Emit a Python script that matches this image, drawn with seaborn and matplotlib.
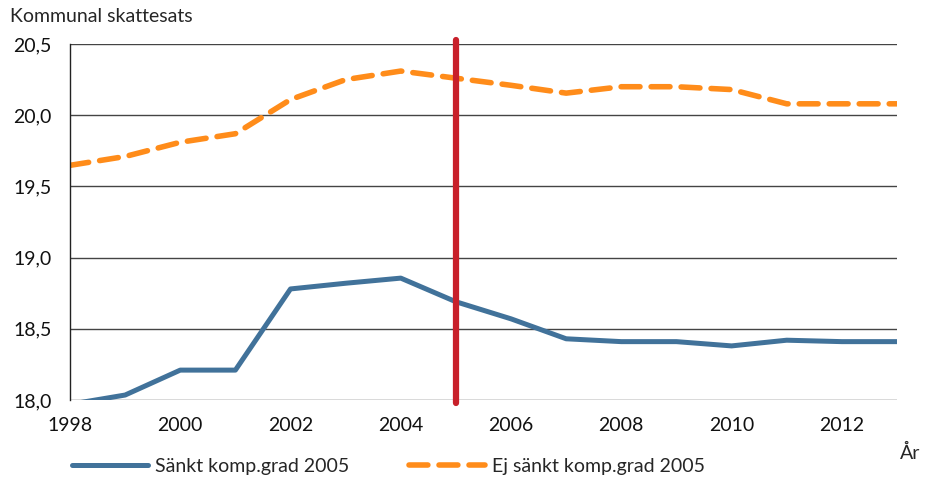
import pandas as pd
import matplotlib
import matplotlib.pyplot as plt
import seaborn as sns
from matplotlib.ticker import FuncFormatter

matplotlib.use("Agg")
sns.set_style("white")
plt.rcParams['font.family'] = ['Lato', 'DejaVu Sans']

# === Data ===
years = list(range(1998, 2014))
sankt = [17.97, 18.035, 18.21, 18.21, 18.78, 18.82, 18.856, 18.69, 18.57,
         18.43, 18.41, 18.41, 18.38, 18.42, 18.41, 18.41]
ej_sankt = [19.648, 19.71, 19.81, 19.87, 20.11, 20.25, 20.31, 20.26, 20.21,
            20.155, 20.20, 20.20, 20.18, 20.08, 20.08, 20.08]
series_names = ["Sänkt komp.grad 2005", "Ej sänkt komp.grad 2005"]
reform_year = 2005

df = pd.DataFrame({
    "År": years * 2,
    "Skattesats": sankt + ej_sankt,
    "Grupp": [series_names[0]] * len(years) + [series_names[1]] * len(years),
})

# === Plot ===
fig = plt.figure(figsize=(9.27, 4.83), dpi=100)
ax = fig.add_axes([0.0755, 0.1718, 0.8921, 0.7371])

sns.lineplot(data=df[df["Grupp"] == series_names[0]], x="År", y="Skattesats",
             color="#41729a", linewidth=3.6, ax=ax, label=series_names[0])
sns.lineplot(data=df[df["Grupp"] == series_names[1]], x="År", y="Skattesats",
             color="#ff8c1a", linewidth=4.0, ax=ax, label=series_names[1])
ax.lines[1].set_dashes((3.4, 2.0))
ax.lines[1].set_dash_capstyle("round")

ax.set_xlim(1998, 2013)
ax.set_ylim(18.0, 20.5)
ax.set_yticks([18.0, 18.5, 19.0, 19.5, 20.0, 20.5])
ax.set_xticks(list(range(1998, 2013, 2)))
ax.yaxis.set_major_formatter(FuncFormatter(lambda v, p: f"{v:.1f}".replace(".", ",")))
ax.grid(axis="y", color="#444444", linewidth=1.0)
ax.set_axisbelow(True)
for s in ["top", "right", "bottom"]:
    ax.spines[s].set_visible(False)
ax.spines["left"].set_color("#222222")
ax.spines["left"].set_linewidth(1.0)
ax.tick_params(axis="both", length=0, labelsize=14, colors="#111111")
ax.tick_params(axis="x", pad=12)
ax.tick_params(axis="y", pad=13)
ax.set_xlabel("")
ax.set_ylabel("")

# reform line
ax.axvline(reform_year, ymin=-0.008, ymax=1.01, color="#c8202a",
           linewidth=4.5, clip_on=False, zorder=5)

fig.text(0.011, 0.965, "Kommunal skattesats", fontsize=14, va="center", ha="left")
fig.text(0.982, 0.062, "År", fontsize=14, va="center", ha="center")

leg = fig.legend(loc="center left", bbox_to_anchor=(0.0777, 0.035), ncol=2,
                 frameon=False, fontsize=14, handlelength=3.9,
                 columnspacing=3.1, handletextpad=0.35, borderpad=0,
                 borderaxespad=0)
ax.get_legend().remove()

fig.savefig("out.png", dpi=100)
